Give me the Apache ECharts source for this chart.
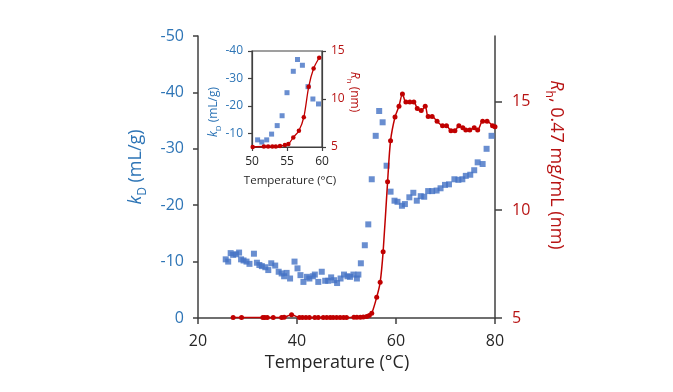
<!DOCTYPE html>
<html><head><meta charset="utf-8">
<script src="https://cdn.jsdelivr.net/npm/echarts@6/dist/echarts.min.js"></script>
<style>html,body{margin:0;padding:0;background:#fff}#c{width:673px;height:392px}</style>
</head><body><div id="c"></div>
<script>
// ---------- data ----------
const xTicks = [20, 40, 60, 80];
const kdTicks = [0, -10, -20, -30, -40, -50];
const rhTicks = [5, 10, 15];
const insetXTicks = [50, 55, 60];
const insetKdTicks = [-40, -30, -20, -10];
const insetRhTicks = [5, 10, 15];

// kD (mL/g) vs temperature, main plot
const kdTemp = [25.6,26.1,26.6,27.1,27.7,28.3,28.7,29.2,29.8,30.4,31.3,31.9,32.4,32.9,33.6,34.2,34.8,35.6,36.3,36.9,37.4,37.9,38.6,39.5,40.1,40.7,41.3,42.0,42.5,43.2,43.6,44.3,45.0,45.7,46.3,46.9,47.5,48.1,48.8,49.5,50.2,50.7,51.4,52.1,52.4,52.9,53.7,54.4,55.1,55.9,56.6,57.3,58.1,58.9,59.7,60.3,61.2,61.8,62.7,63.5,64.2,65.0,65.7,66.5,67.3,68.2,69.0,69.9,70.7,71.8,72.6,73.4,74.1,75.0,75.8,76.5,77.5,78.3,79.3];
const kdVal  = [-10.4,-10.0,-11.5,-11.2,-11.3,-11.6,-10.4,-10.2,-10.0,-9.6,-11.4,-9.8,-9.4,-9.2,-9.0,-8.5,-9.7,-9.3,-8.2,-7.9,-7.4,-8.0,-7.0,-10.0,-8.8,-7.6,-6.4,-7.3,-7.0,-7.4,-7.7,-6.4,-8.2,-6.6,-6.6,-7.2,-6.7,-6.2,-7.0,-7.7,-7.4,-7.3,-7.7,-7.0,-7.7,-9.7,-12.9,-16.6,-24.6,-32.3,-36.7,-34.7,-27.0,-22.4,-20.8,-20.6,-19.9,-20.2,-21.4,-22.2,-20.8,-21.6,-21.5,-22.5,-22.5,-22.6,-23.0,-23.6,-23.7,-24.6,-24.5,-24.6,-25.2,-25.4,-26.2,-27.6,-27.3,-30.0,-32.3];

// Rh (nm) vs temperature, main plot
const rhTemp = [27.1,28.8,33.1,33.5,34.0,35.2,36.9,37.4,38.9,40.5,41.1,41.8,42.5,43.6,44.3,45.3,46.0,46.7,47.3,48.0,48.7,49.4,50.0,51.5,52.1,52.8,53.4,54.1,54.6,55.1,56.1,56.8,57.4,58.3,58.9,59.8,60.6,61.3,62.0,62.8,63.6,64.3,65.1,65.9,66.5,67.3,68.3,69.4,70.2,71.1,71.9,72.7,73.5,74.1,74.9,75.8,76.5,77.5,78.4,79.5,80.0];
const rhVal  = [5.02,5.02,5.02,5.02,5.02,5.02,5.02,5.03,5.15,5.02,5.02,5.02,5.02,5.02,5.02,5.02,5.02,5.02,5.02,5.02,5.02,5.02,5.02,5.03,5.04,5.04,5.05,5.07,5.12,5.22,5.96,6.65,8.07,11.3,13.2,14.3,14.8,15.37,15.0,15.0,15.0,14.7,14.6,14.8,14.32,14.32,14.1,13.9,13.9,13.67,13.67,13.9,13.8,13.7,13.7,13.8,13.7,14.1,14.1,13.9,13.85];

// inset: 50-60 °C
const insetKdTemp = [50.8,51.4,52.1,52.8,53.6,54.3,55.0,55.9,56.5,57.2,58.0,58.7,59.5];
const insetKdVal  = [-7.6,-6.8,-7.6,-9.7,-12.8,-16.4,-24.8,-32.6,-36.9,-34.8,-27.0,-22.5,-20.7];
const insetRhTemp = [50.1,51.7,52.3,52.9,53.4,54.0,54.7,55.2,55.9,56.7,57.4,58.1,58.8,59.6];
const insetRhVal  = [5.0,5.05,5.05,5.05,5.05,5.1,5.2,5.3,6.0,6.7,8.1,11.27,13.18,14.3];

// ---------- chart ----------
const zip = (a, b) => a.map((v, i) => [v, b[i]]);
const FONT = '"Open Sans", "Noto Sans", sans-serif';
const BLUE_TXT = '#2E75B6', BLUE = '#4472C4', RED = '#C00000', RED_TXT = '#B81414', AX = '#404040', TXT = '#262626';

function axisBase(extra) {
  return Object.assign({
    type: 'value',
    splitLine: { show: false },
    axisLine: { show: true, onZero: false, lineStyle: { color: AX, width: 1.5 } },
    axisTick: { show: true, inside: false, length: 5, lineStyle: { color: AX, width: 1.5 } }
  }, extra);
}

const chart = echarts.init(document.getElementById('c'), null, { renderer: 'canvas' });
const subRich = (size, color) => ({
  i: { fontStyle: 'italic', fontSize: size, lineHeight: size * 1.45, fill: color, color: color, fontFamily: FONT },
  s: { fontSize: Math.round(size * 0.66), verticalAlign: 'bottom', fill: color, color: color, fontFamily: FONT },
  n: { fontSize: size, lineHeight: size * 1.45, fill: color, color: color, fontFamily: FONT }
});

chart.setOption({
  animation: false,
  backgroundColor: '#fff',
  grid: [
    { left: 198, top: 36, width: 297, height: 282 },
    { left: 252, top: 51, width: 70, height: 96, show: true, backgroundColor: '#fff', borderColor: AX, borderWidth: 1.2 }
  ],
  xAxis: [
    axisBase({ gridIndex: 0, min: 20, max: 80, interval: 20,
      axisLabel: { margin: 15, fontSize: 16, color: TXT, fontFamily: FONT, customValues: xTicks },
      axisTick: { show: true, length: 6, lineStyle: { color: AX, width: 1.5 }, customValues: xTicks } }),
    axisBase({ gridIndex: 1, min: 50, max: 60, interval: 5,
      axisLine: { show: true, onZero: false, lineStyle: { color: AX, width: 1.2 } },
      axisLabel: { margin: 9, fontSize: 12, color: TXT, fontFamily: FONT, customValues: insetXTicks },
      axisTick: { show: true, length: 4, lineStyle: { color: AX, width: 1.2 }, customValues: insetXTicks } })
  ],
  yAxis: [
    axisBase({ gridIndex: 0, min: -50, max: 0, interval: 10, inverse: true, position: 'left',
      axisLabel: { margin: 14, fontSize: 16, color: BLUE_TXT, fontFamily: FONT, customValues: kdTicks },
      axisTick: { show: true, length: 5, lineStyle: { color: AX, width: 1.5 }, customValues: kdTicks } }),
    axisBase({ gridIndex: 0, min: 5, max: 18.05, position: 'right',
      axisLabel: { margin: 17, fontSize: 16, color: RED_TXT, fontFamily: FONT, customValues: rhTicks },
      axisTick: { show: true, length: 7, lineStyle: { color: AX, width: 1.5 }, customValues: rhTicks } }),
    axisBase({ gridIndex: 1, min: -40, max: -5, inverse: true, position: 'left',
      axisLine: { show: true, onZero: false, lineStyle: { color: AX, width: 1.2 } },
      axisLabel: { margin: 9, fontSize: 12, color: BLUE_TXT, fontFamily: FONT, customValues: insetKdTicks },
      axisTick: { show: true, length: 4, lineStyle: { color: AX, width: 1.2 }, customValues: insetKdTicks } }),
    axisBase({ gridIndex: 1, min: 5, max: 15, interval: 5, position: 'right',
      axisLine: { show: true, onZero: false, lineStyle: { color: AX, width: 1.2 } },
      axisLabel: { margin: 9, fontSize: 12, color: RED_TXT, fontFamily: FONT, customValues: insetRhTicks },
      axisTick: { show: true, length: 4, lineStyle: { color: AX, width: 1.2 }, customValues: insetRhTicks } })
  ],
  series: [
    { type: 'scatter', xAxisIndex: 0, yAxisIndex: 0, data: zip(kdTemp, kdVal),
      symbol: 'rect', symbolSize: 6, itemStyle: { color: BLUE }, z: 3 },
    { type: 'line', xAxisIndex: 0, yAxisIndex: 1, data: zip(rhTemp, rhVal), smooth: 0.3,
      symbol: 'circle', symbolSize: 5, showSymbol: true, clip: false,
      lineStyle: { color: RED, width: 1.5 }, itemStyle: { color: RED }, z: 4 },
    { type: 'scatter', xAxisIndex: 1, yAxisIndex: 2, data: zip(insetKdTemp, insetKdVal),
      symbol: 'rect', symbolSize: 5, itemStyle: { color: BLUE }, z: 5 },
    { type: 'line', xAxisIndex: 1, yAxisIndex: 3, data: zip(insetRhTemp, insetRhVal), smooth: 0.3,
      symbol: 'circle', symbolSize: 4.5, showSymbol: true, clip: false,
      lineStyle: { color: RED, width: 1.3 }, itemStyle: { color: RED }, z: 6 }
  ],
  graphic: [
    { type: 'text', x: 136, y: 167, rotation: Math.PI / 2,
      style: { text: '{i|k}{s|D}{n| (mL/g)}', rich: subRich(18, BLUE_TXT), align: 'center', verticalAlign: 'middle', fill: BLUE_TXT } },
    { type: 'text', x: 556, y: 165, rotation: -Math.PI / 2,
      style: { text: '{i|R}{s|h}{n|, 0.47 mg/mL (nm)}', rich: subRich(18, RED_TXT), align: 'center', verticalAlign: 'middle', fill: RED_TXT } },
    { type: 'text', x: 337, y: 363,
      style: { text: 'Temperature (°C)', fontSize: 18, fontFamily: FONT, fill: TXT, align: 'center', verticalAlign: 'middle' } },
    { type: 'text', x: 214, y: 112, rotation: Math.PI / 2, z: 10,
      style: { text: '{i|k}{s|D}{n| (mL/g)}', rich: subRich(12, BLUE_TXT), align: 'center', verticalAlign: 'middle', fill: BLUE_TXT } },
    { type: 'text', x: 354, y: 92, rotation: -Math.PI / 2, z: 10,
      style: { text: '{i|R}{s|h}{n| (nm)}', rich: subRich(12, RED_TXT), align: 'center', verticalAlign: 'middle', fill: RED_TXT } },
    { type: 'text', x: 290, y: 181, z: 10,
      style: { text: 'Temperature (°C)', fontSize: 11.5, fontFamily: FONT, fill: TXT, align: 'center', verticalAlign: 'middle' } }
  ]
});
</script>
</body></html>
